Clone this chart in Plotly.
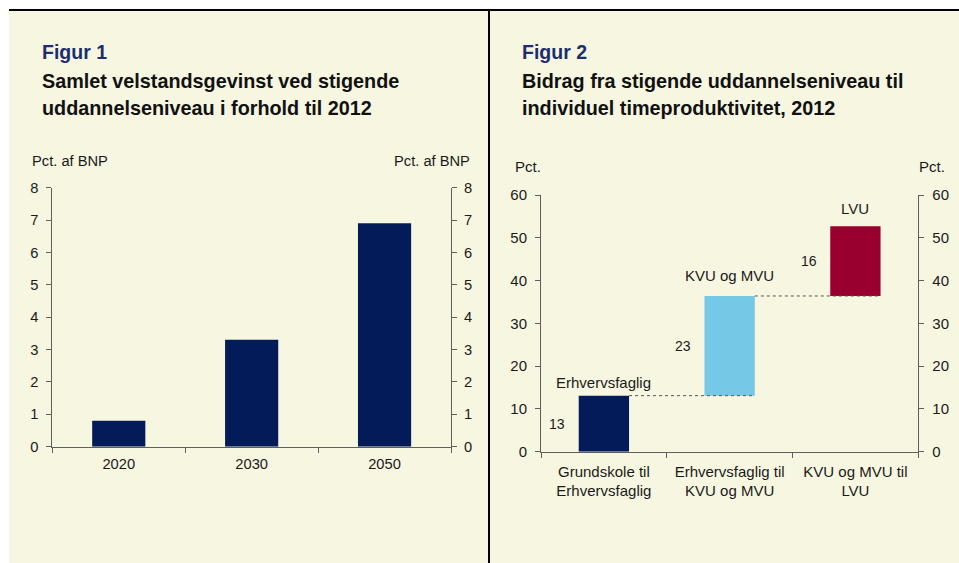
import numpy as np
import plotly.graph_objects as go

# ---------------- data ----------------
years = ["2020", "2030", "2050"]
gain_pct_gdp = [0.8, 3.3, 6.9]

steps = ["Grundskole til<br>Erhvervsfaglig", "Erhvervsfaglig til<br>KVU og MVU", "KVU og MVU til<br>LVU"]
step_names = ["Erhvervsfaglig", "KVU og MVU", "LVU"]
step_values = [13.1, 23.3, 16.3]
step_labels = ["13", "23", "16"]

left_ticks = [0, 1, 2, 3, 4, 5, 6, 7, 8]
right_ticks = [0, 10, 20, 30, 40, 50, 60]

# ---------------- style ----------------
W, H = 959, 563
CREAM = "#F7F7E1"
NAVY = "#031C59"
LIGHTBLUE = "#75C8E6"
CRIMSON = "#990030"
AXIS = "#5f5f5f"
TXT = "#1a1a1a"
FONT = "Liberation Sans, Arial, sans-serif"
LF = 14.7   # left chart font size
RF = 15     # right chart font size

def px(xp):
    return xp / W

def py(yp):
    return 1 - yp / H

fig = go.Figure()

# Figure 1 bars
fig.add_trace(go.Bar(x=years, y=gain_pct_gdp, marker=dict(color=NAVY, line=dict(width=0)),
                     width=0.4, xaxis="x", yaxis="y", showlegend=False, hoverinfo="skip"))
# invisible trace for mirrored right axis of figure 1
fig.add_trace(go.Scatter(x=years, y=gain_pct_gdp, mode="markers", marker=dict(opacity=0),
                         xaxis="x", yaxis="y3", showlegend=False, hoverinfo="skip"))

# Figure 2 waterfall
bases = np.concatenate([[0], np.cumsum(step_values)[:-1]])
tops = np.cumsum(step_values)
fig.add_trace(go.Bar(x=steps, y=step_values, base=bases,
                     marker=dict(color=[NAVY, LIGHTBLUE, CRIMSON], line=dict(width=0)),
                     width=0.4, xaxis="x2", yaxis="y2", showlegend=False, hoverinfo="skip"))
fig.add_trace(go.Scatter(x=steps, y=list(tops), mode="markers", marker=dict(opacity=0),
                         xaxis="x2", yaxis="y4", showlegend=False, hoverinfo="skip"))

axis_common = dict(showgrid=False, zeroline=False, showline=True, linecolor=AXIS, linewidth=1,
                   ticks="outside", ticklen=5, tickcolor=AXIS, tickwidth=1, automargin=False)

fig.update_layout(
    width=W, height=H,
    margin=dict(l=0, r=0, t=0, b=0, pad=0, autoexpand=False),
    paper_bgcolor="white",
    plot_bgcolor=CREAM,
    font=dict(family=FONT, color=TXT),
    showlegend=False,
    xaxis=dict(domain=[px(52.3), px(451)], anchor="y", type="category", tickson="boundaries",
               tickfont=dict(size=LF, color=TXT), ticklabelstandoff=4, **axis_common),
    yaxis=dict(domain=[py(446.7), py(187.7)], anchor="x", range=[0, 8], tickvals=left_ticks,
               tickfont=dict(size=LF, color=TXT), ticklabelstandoff=5, **axis_common),
    yaxis3=dict(overlaying="y", side="right", anchor="x", range=[0, 8], tickvals=left_ticks,
                tickfont=dict(size=LF, color=TXT), ticklabelstandoff=4, **axis_common),
    xaxis2=dict(domain=[px(541), px(918.3)], anchor="y2", type="category", tickson="boundaries",
                tickfont=dict(size=RF, color=TXT), ticklabelstandoff=6, **axis_common),
    yaxis2=dict(domain=[py(451.7), py(195)], anchor="x2", range=[0, 60], tickvals=right_ticks,
                tickfont=dict(size=RF, color=TXT), ticklabelstandoff=5, **axis_common),
    yaxis4=dict(overlaying="y2", side="right", anchor="x2", range=[0, 60], tickvals=right_ticks,
                tickfont=dict(size=RF, color=TXT), ticklabelstandoff=5, **axis_common),
)

shapes = [
    # cream panel background
    dict(type="rect", xref="paper", yref="paper", x0=px(9), x1=1, y0=0, y1=py(10),
         fillcolor=CREAM, line=dict(width=0), layer="below"),
    # top rule
    dict(type="line", xref="paper", yref="paper", x0=px(9), x1=1, y0=py(10), y1=py(10),
         line=dict(color="black", width=2)),
    # divider
    dict(type="line", xref="paper", yref="paper", x0=px(489), x1=px(489), y0=0, y1=py(10),
         line=dict(color="black", width=2)),
]
# dotted connectors in waterfall
for i in range(len(step_values) - 1):
    shapes.append(dict(type="line", xref="x2", yref="y2", x0=i + 0.2, x1=i + 1.2,
                       y0=tops[i], y1=tops[i], line=dict(color="#555555", width=1, dash="dot")))
fig.update_layout(shapes=shapes)

ann = []
# titles
ann.append(dict(text="<b>Figur 1</b>", x=px(40), y=py(52), font=dict(size=19.5, color="#1B2F6E")))
ann.append(dict(text="<b>Samlet velstandsgevinst ved stigende</b>", x=px(40), y=py(80.5), font=dict(size=19.8, color="#111111")))
ann.append(dict(text="<b>uddannelseniveau i forhold til 2012</b>", x=px(40), y=py(108), font=dict(size=19.8, color="#111111")))
ann.append(dict(text="<b>Figur 2</b>", x=px(520), y=py(52), font=dict(size=19.5, color="#1B2F6E")))
ann.append(dict(text="<b>Bidrag fra stigende uddannelseniveau til</b>", x=px(520), y=py(80.5), font=dict(size=19.8, color="#111111")))
ann.append(dict(text="<b>individuel timeproduktivitet, 2012</b>", x=px(520), y=py(108), font=dict(size=19.8, color="#111111")))
for a in ann:
    a.update(xref="paper", yref="paper", xanchor="left", yanchor="middle", showarrow=False)

# axis unit labels
units = [
    dict(text="Pct. af BNP", x=px(30), y=py(161), xanchor="left", font=dict(size=LF)),
    dict(text="Pct. af BNP", x=px(472), y=py(161), xanchor="right", font=dict(size=LF)),
    dict(text="Pct.", x=px(513), y=py(166), xanchor="left", font=dict(size=RF)),
    dict(text="Pct.", x=px(947), y=py(166), xanchor="right", font=dict(size=RF)),
]
for u in units:
    u.update(xref="paper", yref="paper", yanchor="middle", showarrow=False)
    u["font"]["color"] = TXT
ann += units

# waterfall labels
name_shift = [3, 10, 7]
for i in range(len(step_values)):
    ann.append(dict(text=step_names[i], x=i, y=tops[i], xref="x2", yref="y2", xanchor="center",
                    yanchor="bottom", yshift=name_shift[i], showarrow=False,
                    font=dict(size=RF, color=TXT)))
    ann.append(dict(text=step_labels[i], x=i - 0.37, y=bases[i] + step_values[i] / 2, xref="x2", yref="y2",
                    xanchor="center", yanchor="middle", showarrow=False,
                    font=dict(size=14, color=TXT)))
fig.update_layout(annotations=ann)

fig.write_html("out.html", config={"displayModeBar": False},
               post_script="document.body.style.margin='0';document.body.style.overflow='hidden';")
